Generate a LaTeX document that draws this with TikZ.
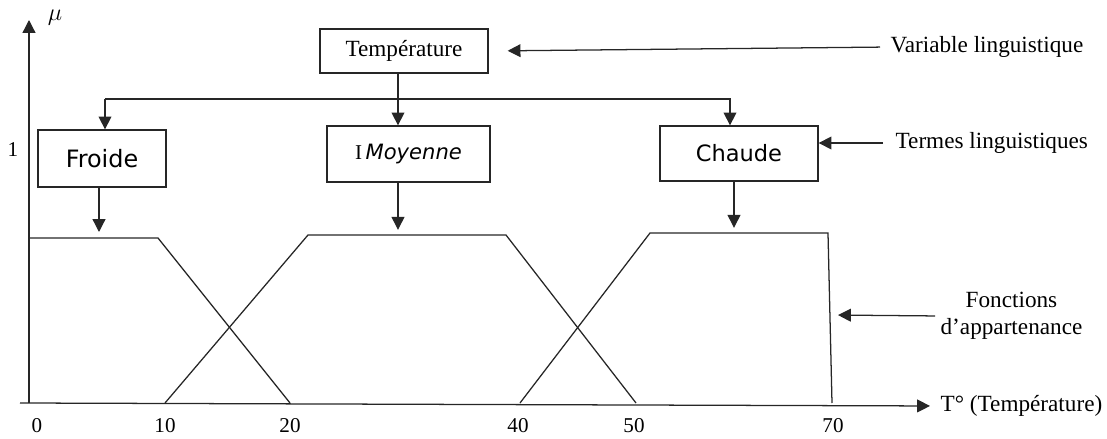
\documentclass[tikz,border=0pt]{standalone}
\usepackage{fontspec}
\setmainfont{Liberation Serif}
\newfontfamily\termfont{DejaVu Sans}
\usetikzlibrary{arrows.meta, positioning, calc}

\begin{document}
\begin{tikzpicture}[
  x=0.025cm, y=-0.025cm,
  line width=0.9pt, draw=black!85,
  term/.style={rectangle, draw, line width=0.9pt, inner sep=0pt, font=\termfont\fontsize{17}{19}\selectfont},
  varbox/.style={rectangle, draw, line width=0.9pt, inner sep=0pt, font=\fontsize{16.5}{18}\selectfont},
  note/.style={inner sep=0pt, align=center, font=\fontsize{16.5}{19.5}\selectfont},
  tick/.style={inner sep=0pt, font=\fontsize{15}{17}\selectfont},
  pointer/.style={-{Triangle[length=3.2mm, width=3.2mm]}}
]
  \useasboundingbox (0,0) rectangle (1107,439);

  % axes
  \coordinate (origin) at (29,403);
  \node[note, anchor=west] (xlab) at (940,406) {T\textdegree{} (Température)};
  \node[note] (ylab) at (55,18) {$\mu$};
  \draw[pointer, shorten >=0.25cm] (20,403) -- (xlab.west);
  \draw[pointer] (origin) -- (29,20);
  \node[tick] (one) at (13,150) {1};
  \foreach \v/\px in {0/37, 10/165, 20/290, 40/518, 50/634, 70/833}
    \node[tick] (t\v) at (\px,426) {\v};

  % membership functions
  \draw (29,238) -- (158,238) -- (290,403);
  \draw (165,403) -- (308,235) -- (506,235) -- (636,403);
  \draw (520,403) -- (650,233) -- (828,233) -- (832,403);
  \coordinate (froideTop) at (99,238);
  \coordinate (moyenneTop) at (398,235);
  \coordinate (chaudeTop) at (734,233);
  \coordinate (chaudeEdge) at (831,315);

  % linguistic variable and terms
  \node[varbox, minimum width=4.2cm, minimum height=1.1cm] (temp) at (404,51) {Température};
  \node[term, minimum width=3.2cm, minimum height=1.425cm] (froide) at (102,158.5) {Froide};
  \node[term, minimum width=4.075cm, minimum height=1.4cm] (moyenne) at (408.5,154) {{\rmfamily\fontsize{15}{17}\selectfont I\,}\textit{\fontsize{15}{17}\selectfont Moyenne}};
  \node[term, minimum width=3.95cm, minimum height=1.375cm] (chaude) at (739,153.5) {\fontsize{16}{18}\selectfont Chaude};

  \coordinate (split) at (398,99);
  \coordinate (froideDrop) at (105,99);
  \coordinate (chaudeDrop) at (730,99);
  \draw[pointer] (temp.south -| split) -- (moyenne.north -| split);
  \draw[pointer] (froideDrop) -- (chaudeDrop) -- (chaudeDrop |- chaude.north);
  \draw[pointer] (froideDrop) -- (froideDrop |- froide.north);

  \draw[pointer, shorten >=0.15cm] (froide.south -| froideTop) -- (froideTop);
  \draw[pointer, shorten >=0.13cm] (moyenne.south -| moyenneTop) -- (moyenneTop);
  \draw[pointer, shorten >=0.13cm] (chaude.south -| chaudeTop) -- (chaudeTop);

  % side notes
  \node[note, anchor=west] (varling) at (890,47) {Variable linguistique};
  \node[note, anchor=west] (termes) at (895,143) {Termes linguistiques};
  \node[note, anchor=west] (fonctions) at (940,316) {Fonctions\\d'appartenance};
  \draw[pointer, shorten <=0.25cm, shorten >=0.475cm] (varling.west) -- (temp.east);
  \draw[pointer, shorten <=0.3cm] (termes.west) -- (chaude.east |- termes.west);
  \draw[pointer, shorten <=0.125cm, shorten >=0.175cm] (fonctions.west) -- (chaudeEdge);
\end{tikzpicture}
\end{document}
